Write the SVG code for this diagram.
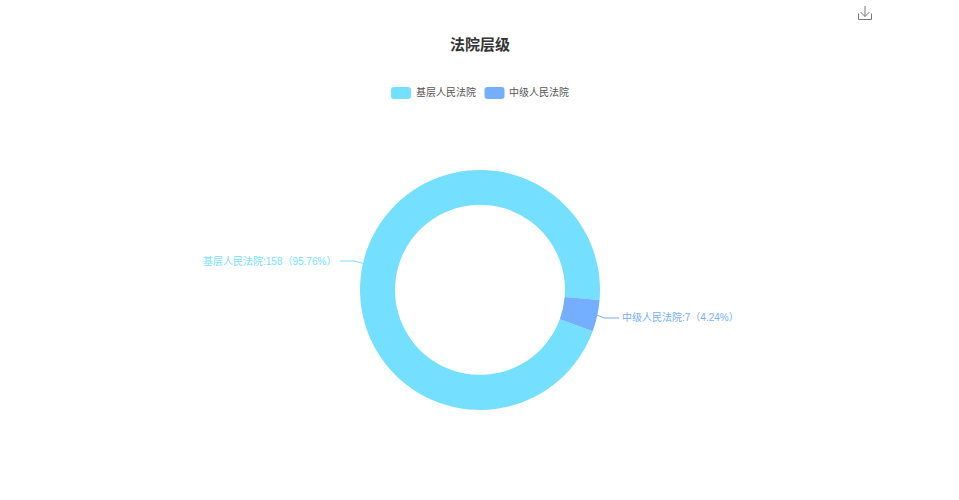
<svg xmlns="http://www.w3.org/2000/svg" width="959" height="500" viewBox="0 0 959 500">
<style>
text{font-family:"Liberation Sans","Noto Sans CJK SC",sans-serif}
.t{font-size:15px;font-weight:700;fill:#333}
.l{font-size:10px;fill:#555}
.c{fill:#75dfff}.b{fill:#73aeff}
.ln{fill:none;stroke-width:1}
</style>
<rect width="959" height="500" fill="#fff"/>
<g id="download" fill="none" stroke="#777" stroke-width="1">
<path d="M858.500 13.500V19.500H871.500V13.500M865 6V16.500M860.500 12L865 16.500L869.500 12"/>
</g>
<text class="t" x="480" y="50" text-anchor="middle">法院层级</text>
<g id="legend">
<g id="legend-a"><rect class="c" x="391" y="87" width="20" height="12" rx="3"/><text class="l" x="416" y="96">基层人民法院</text></g>
<g id="legend-b"><rect class="b" x="484.500" y="87" width="20" height="12" rx="3"/><text class="l" x="509" y="96">中级人民法院</text></g>
</g>
<g id="connectors">
<path class="ln" stroke="#75dfff" d="M340 261H354L363.500 263.500"/>
<path class="ln" stroke="#73aeff" d="M597 315L604 318H619"/>
</g>
<g id="node-a">
<path class="c" d="M599.580 300.040A120 120 0 1 0 592.700 331.160L559.800 319.150A85 85 0 1 1 564.700 297.100Z"/>
<text x="203" y="265" font-size="10" fill="#75dfff">基层人民法院:158（95.76%）</text>
</g>
<g id="node-b">
<path class="b" d="M599.580 300.040A120 120 0 0 1 592.700 331.160L559.800 319.150A85 85 0 0 0 564.700 297.100Z"/>
<text x="622" y="321" font-size="10" fill="#73aeff">中级人民法院:7（4.24%）</text>
</g>
</svg>
